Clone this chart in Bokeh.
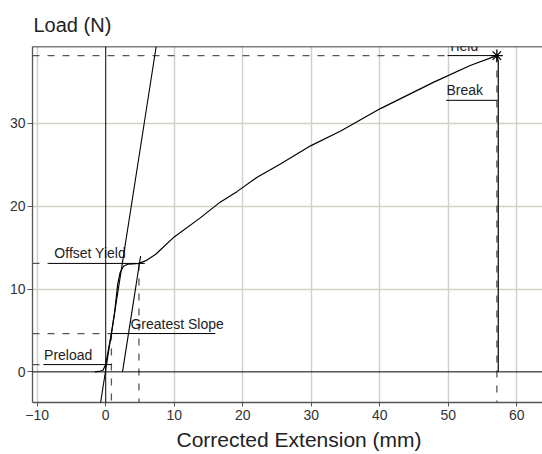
from bokeh.plotting import figure
from bokeh.models import Range1d, FixedTicker, Span, Slope, Title
from bokeh.core.properties import value
from bokeh.embed import file_html
from bokeh.resources import INLINE

# ---- data ----
ext = [-1.6, -1.0, -0.4, 0.0, 0.4, 0.83, 1.3, 1.75, 2.1, 2.6, 3.2, 4.0, 4.8, 5.8, 7.3,
       10.0, 13.8, 16.7, 19.2, 22.1, 25.5, 29.9, 34.3, 40.1, 47.9, 53.2, 57.1, 57.3, 57.3]
load = [0.0, 0.05, 0.2, 0.9, 2.7, 4.63, 7.2, 10.6, 12.0, 12.75, 13.0, 13.05, 13.1, 13.4, 14.2,
        16.3, 18.6, 20.5, 21.8, 23.5, 25.1, 27.3, 29.1, 31.8, 35.0, 37.0, 38.2, 37.6, 0.0]

x_ticks = [-10, 0, 10, 20, 30, 40, 50, 60]
y_ticks = [0, 10, 20, 30]
x_grid = [-10, 10, 20, 30, 40, 50, 60]
y_grid = [10, 20, 30]

ann_names = ["Preload", "Greatest Slope", "Offset Yield", "Yield", "Break"]
ann_x = [0.0, 0.83, 4.85, 57.1, 57.3]
ann_y = [0.88, 4.63, 13.1, 38.2, 32.8]
line_start = [-9.1, 0.83, -8.4, 49.9, 49.7]
line_end = [0.85, 16.0, 5.7, 57.1, 57.2]
text_x = [-9.0, 3.6, -7.5, 49.9, 49.75]
has_h_dash = [True, True, True, True, False]
has_v_dash = [False, True, True, True, False]

gs_slope = 5.3     # N/mm, greatest slope
gs_x0 = -0.05      # mm, where greatest-slope line crosses zero load
offset_x0 = 2.45   # mm, offset line crosses zero load
offset_top = 14.0  # N, offset line drawn up to this load

yield_x = [57.1]
yield_y = [38.2]

X0, X1 = -10.69, 63.76
Y0, Y1 = -3.7, 39.3

FONT = "Liberation Sans"

p = figure(width=542, height=454, x_range=Range1d(X0, X1), y_range=Range1d(Y0, Y1),
           output_backend="svg", toolbar_location=None,
           min_border_left=32, min_border_right=0, min_border_top=46, min_border_bottom=52,
           title="Load (N)")
p.outline_line_color = None
p.background_fill_color = "white"
p.border_fill_color = "white"

p.title.align = "left"
p.title.offset = 1
p.title.text_font = FONT
p.title.text_font_size = "20px"
p.title.text_font_style = "normal"
p.title.text_color = "#222222"
p.title.standoff = 22

p.add_layout(Title(text="Corrected Extension (mm)", align="left", offset=144,
                   text_font=FONT, text_font_size="21px", text_font_style="normal",
                   text_color="#222222", standoff=6), "below")

# grid
p.xgrid.ticker = FixedTicker(ticks=x_grid)
p.ygrid.ticker = FixedTicker(ticks=y_grid)
for g in (p.xgrid, p.ygrid):
    g.grid_line_color = "#d3d1c7"
    g.grid_line_width = 1.5

# axes
p.xaxis.ticker = FixedTicker(ticks=x_ticks)
p.yaxis.ticker = FixedTicker(ticks=y_ticks)
for ax, tout, so in ((p.xaxis, 4, 3), (p.yaxis, 5, 2)):
    ax.axis_line_color = "#555555"
    ax.axis_line_width = 1.3
    ax.major_tick_line_color = "#555555"
    ax.major_tick_out = tout
    ax.major_tick_in = 0
    ax.minor_tick_line_color = None
    ax.major_label_text_font = FONT
    ax.major_label_text_font_size = "14px"
    ax.major_label_text_color = "#333333"
    ax.major_label_standoff = so

# reference lines
p.add_layout(Span(location=0, dimension="height", line_color="black", line_width=1))
p.add_layout(Span(location=0, dimension="width", line_color="black", line_width=1))
p.add_layout(Span(location=Y1, dimension="width", line_color="black", line_width=1.5))

# dashed guides
hx0 = [X0 for a, f in zip(ann_x, has_h_dash) if f]
hy = [y for y, f in zip(ann_y, has_h_dash) if f]
hx1 = [s for s, f in zip(line_start, has_h_dash) if f]
p.segment(x0=hx0, y0=hy, x1=hx1, y1=hy, line_color="#555555", line_width=1.3, line_dash="7 8")
vx = [x for x, f in zip(ann_x, has_v_dash) if f]
vy = [y for y, f in zip(ann_y, has_v_dash) if f]
p.segment(x0=vx, y0=vy, x1=vx, y1=[Y0] * len(vx), line_color="#555555", line_width=1.3,
          line_dash="7 8")

# greatest slope line and offset line
p.add_layout(Slope(gradient=gs_slope, y_intercept=-gs_slope * gs_x0,
                   line_color="black", line_width=1.1))
p.line([offset_x0, offset_x0 + offset_top / gs_slope], [0, offset_top],
       line_color="black", line_width=1.1)

# curve
p.line(ext, load, line_color="black", line_width=1.2)

# label underlines and texts
p.segment(x0=line_start, y0=ann_y, x1=line_end, y1=ann_y, line_color="black", line_width=1)
p.text(x=text_x, y=ann_y, text=ann_names, text_font=value(FONT), text_font_size="14px",
       text_baseline="bottom", y_offset=-2, text_color="#222222")

p.scatter(yield_x, yield_y, marker="asterisk", size=12, line_color="black", line_width=1.3)

open("out.html", "w").write(file_html(p, INLINE))
